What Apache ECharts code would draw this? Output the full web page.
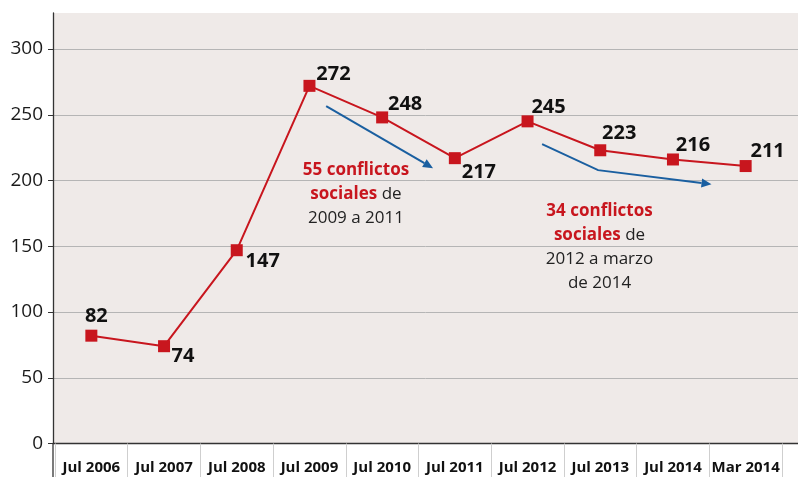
<!DOCTYPE html>
<html>
<head>
<meta charset="utf-8">
<script src="https://cdn.jsdelivr.net/npm/echarts@6/dist/echarts.min.js"></script>
<style>
html,body{margin:0;padding:0;background:#fff;}
#chart{width:798px;height:477px;}
</style>
</head>
<body>
<div id="chart"></div>
<script>
// ---- data ----
const categories = ['Jul 2006','Jul 2007','Jul 2008','Jul 2009','Jul 2010','Jul 2011','Jul 2012','Jul 2013','Jul 2014','Mar 2014'];
const values = [82, 74, 147, 272, 248, 217, 245, 223, 216, 211];
const yTicks = [0, 50, 100, 150, 200, 250, 300];

// label offsets (style, separate from data)
const labelOffsets = [[5,-19],[19,10],[26,11],[24,-12],[23,-13],[24,14],[21,-14],[19,-17],[20,-14],[22,-15]];

// annotations in data units: [categoryIndex, value]
const arrow1 = [[3.23,256.6],[4.70,209.4]];
const arrow2 = [[6.20,227.7],[6.97,207.9],[8.53,197.2]];
const note1Anchor = [3.64, 189.6];
const note2Anchor = [6.99, 149.2];
const note1Text = '{r|55 conflictos}\n{r|sociales}{n| de}\n{n|2009 a 2011}';
const note2Text = '{r|34 conflictos}\n{r|sociales}{n| de}\n{n|2012 a marzo}\n{n|de 2014}';

const RED = '#c8161e';
const BLUE = '#1a5fa0';
const FONT = '"Open Sans", "Noto Sans", sans-serif';
const YMAX = 327.4;

const chart = echarts.init(document.getElementById('chart'), null, {renderer:'canvas'});

chart.setOption({
  animation: false,
  backgroundColor: '#ffffff',
  grid: [
    {left: 53, right: 0, top: 13, bottom: 33.5, show: true, backgroundColor: '#efeae8', borderWidth: 0},
    {left: 55, right: 16, top: 13, bottom: 33.5}
  ],
  xAxis: [
    {type: 'value', gridIndex: 0, min: 0, max: 1, axisLine: {show: true, onZero: false, lineStyle: {color: '#333', width: 1.3}},
     axisTick: {show: false}, axisLabel: {show: false}, splitLine: {show: false}},
    {type: 'category', gridIndex: 1, data: categories, boundaryGap: true,
     axisLine: {show: false},
     axisTick: {show: true, interval: 0, length: 36, lineStyle: {color: '#cfcfcf', width: 1}},
     axisLabel: {interval: 0, fontFamily: FONT, fontWeight: 'bold', fontSize: 15, color: '#111', margin: 17}}
  ],
  yAxis: [
    {type: 'value', gridIndex: 0, min: 0, max: YMAX, interval: 50,
     axisLine: {show: true, lineStyle: {color: '#333', width: 1.3}},
     axisTick: {show: true, length: 5, lineStyle: {color: '#333'}},
     axisLabel: {fontFamily: FONT, fontSize: 19, color: '#1a1a1a', margin: 10, showMaxLabel: false,
       formatter: v => yTicks.indexOf(v) >= 0 ? String(v) : ''},
     splitLine: {show: true, showMaxLine: false, lineStyle: {color: '#b5b5b5', width: 1}}},
    {type: 'value', gridIndex: 1, min: 0, max: YMAX, show: false, splitLine: {show: false}}
  ],
  series: [{
    type: 'line',
    xAxisIndex: 1, yAxisIndex: 1,
    data: values.map((v, i) => ({value: v, label: {offset: labelOffsets[i]}})),
    symbol: 'rect', symbolSize: 12,
    lineStyle: {color: RED, width: 2},
    itemStyle: {color: RED},
    label: {show: true, position: 'inside', fontFamily: FONT, fontWeight: 'bold', fontSize: 20, color: '#111'},
    z: 5
  }]
});

function px(pt) {
  const a = chart.convertToPixel({gridIndex: 1}, [0, pt[1]]);
  const b = chart.convertToPixel({gridIndex: 1}, [1, pt[1]]);
  return [a[0] + (b[0] - a[0]) * pt[0], a[1]];
}
function arrowGraphics(path) {
  const pts = path.map(px);
  const n = pts.length;
  const tip = pts[n-1], prev = pts[n-2];
  const dx = tip[0]-prev[0], dy = tip[1]-prev[1];
  const L = Math.hypot(dx, dy), ux = dx/L, uy = dy/L;
  const hl = 10, hw = 4.5;
  const base = [tip[0]-ux*hl, tip[1]-uy*hl];
  const linePts = pts.slice(0, n-1).concat([base]);
  return [
    {type: 'polyline', shape: {points: linePts}, style: {stroke: BLUE, lineWidth: 2, fill: null}, z: 10},
    {type: 'polygon', shape: {points: [tip, [base[0]-uy*hw, base[1]+ux*hw], [base[0]+uy*hw, base[1]-ux*hw]]}, style: {fill: BLUE}, z: 10}
  ];
}
function noteGraphic(anchor, text) {
  const p = px(anchor);
  return {
    type: 'text', x: p[0], y: p[1], z: 10,
    style: {
      text: text, align: 'center', verticalAlign: 'middle',
      rich: {
        r: {fontFamily: FONT, fontWeight: 'bold', fontSize: 17, fill: RED, lineHeight: 24},
        n: {fontFamily: FONT, fontWeight: 'normal', fontSize: 17, fill: '#222', lineHeight: 24}
      }
    }
  };
}
const origin = chart.convertToPixel({gridIndex: 0}, [0, 0]);
chart.setOption({
  graphic: [].concat(
    arrowGraphics(arrow1),
    arrowGraphics(arrow2),
    [noteGraphic(note1Anchor, note1Text), noteGraphic(note2Anchor, note2Text),
     {type: 'line', shape: {x1: origin[0], y1: origin[1], x2: origin[0], y2: 477}, style: {stroke: '#333', lineWidth: 1.3}, z: 10}]
  )
});
</script>
</body>
</html>
